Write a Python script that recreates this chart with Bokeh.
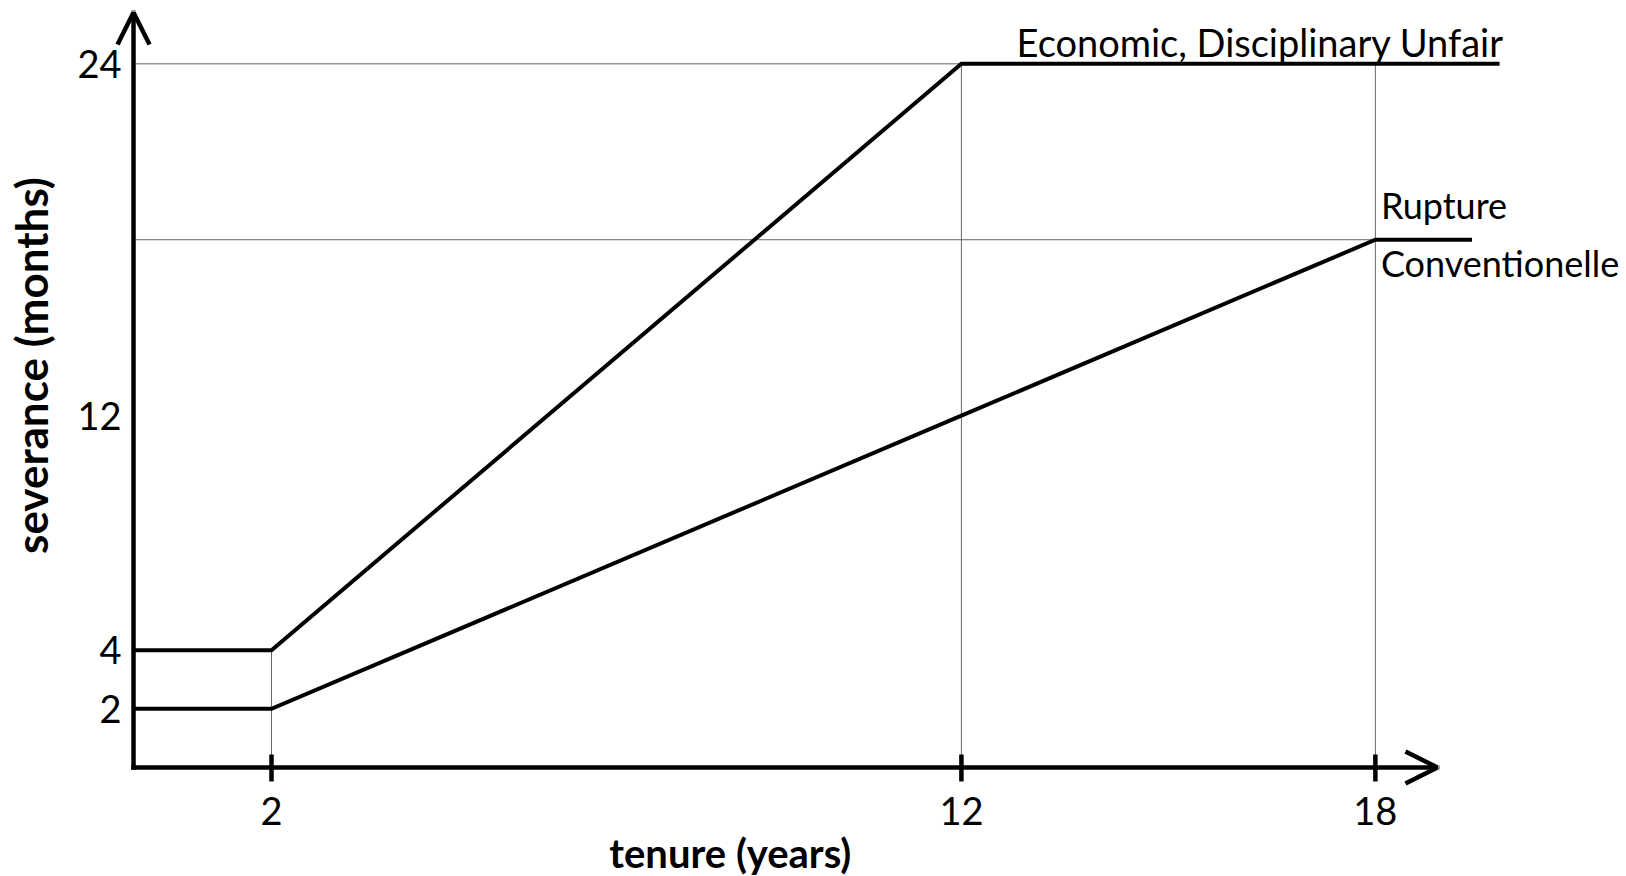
from math import pi
from bokeh.plotting import figure
from bokeh.models import Range1d, Label, Arrow, OpenHead, ColumnDataSource
from bokeh.core.properties import value
from bokeh.embed import file_html
from bokeh.resources import INLINE

# ---- data ----
tenure_upper = [0, 2, 12, 19.8]
severance_upper = [4, 4, 24, 24]
tenure_lower = [0, 2, 12, 18, 19.4]
severance_lower = [2, 2, 12, 18, 18]

x_ticks = [2, 12, 18]
x_tick_labels = ["2", "12", "18"]
y_ticks = [2, 4, 12, 24]
y_tick_labels = ["2", "4", "12", "24"]

guide_v_x = [2, 12, 18]
guide_v_top = [4, 24, 24]
guide_h_y = [24, 18]
guide_h_end = [12, 18]

x_axis_end = 18.9
y_axis_end = 25.75

label_upper = "Economic, Disciplinary Unfair"
label_lower_1 = "Rupture"
label_lower_2 = "Conventionelle"
x_title = "tenure (years)"
y_title = "severance (months)"

FONT = "Lato"

p = figure(width=1626, height=876, output_backend="svg", toolbar_location=None,
           x_axis_location=None, y_axis_location=None,
           x_range=Range1d(-1.928, 21.64), y_range=Range1d(-3.718, 26.16),
           min_border=0, min_border_left=0, min_border_right=0,
           min_border_top=0, min_border_bottom=0)
p.outline_line_color = None
p.background_fill_color = "white"
p.border_fill_color = "white"
p.grid.visible = False

# thin guide lines
p.segment(x0=guide_v_x, y0=[0] * len(guide_v_x), x1=guide_v_x, y1=guide_v_top,
          line_color="#666666", line_width=1)
p.segment(x0=[0] * len(guide_h_y), y0=guide_h_y, x1=guide_h_end, y1=guide_h_y,
          line_color="#666666", line_width=1)

# data lines
p.line(tenure_upper, severance_upper, line_color="black", line_width=4, line_join="miter")
p.line(tenure_lower, severance_lower, line_color="black", line_width=4, line_join="miter")

# axis arrows
p.add_layout(Arrow(end=OpenHead(size=32, line_width=4.5, line_color="black"),
                   x_start=0, y_start=0, x_end=x_axis_end, y_end=0,
                   line_width=4.5, line_color="black", line_cap="square"))
p.add_layout(Arrow(end=OpenHead(size=32, line_width=4.5, line_color="black"),
                   x_start=0, y_start=0, x_end=0, y_end=y_axis_end,
                   line_width=4.5, line_color="black", line_cap="square"))

# x tick marks (crossing the axis) and tick labels
p.segment(x0=x_ticks, y0=[0.443] * len(x_ticks), x1=x_ticks, y1=[-0.477] * len(x_ticks),
          line_color="black", line_width=4.5)
xsrc = ColumnDataSource(dict(x=x_ticks, y=[-1.5] * len(x_ticks), t=x_tick_labels))
p.text(x="x", y="y", text="t", source=xsrc, text_font=value(FONT), text_font_size="38px",
       text_align="center", text_baseline="middle", text_color="black")

# y tick labels
ysrc = ColumnDataSource(dict(x=[-0.174] * len(y_ticks), y=y_ticks, t=y_tick_labels))
p.text(x="x", y="y", text="t", source=ysrc, text_font=value(FONT), text_font_size="38px",
       text_align="right", text_baseline="middle", text_color="black")

# series labels
p.add_layout(Label(x=12.8, y=24.74, text=label_upper, text_font=FONT, text_font_size="38px",
                   text_baseline="middle", text_align="left", text_color="black"))
p.add_layout(Label(x=18.08, y=19.2, text=label_lower_1, text_font=FONT, text_font_size="36px",
                   text_baseline="middle", text_align="left", text_color="black"))
p.add_layout(Label(x=18.08, y=17.2, text=label_lower_2, text_font=FONT, text_font_size="36px",
                   text_baseline="middle", text_align="left", text_color="black"))

# axis titles
p.add_layout(Label(x=8.65, y=-2.9, text=x_title, text_font=FONT, text_font_size="40px",
                   text_font_style="bold", text_baseline="middle", text_align="center",
                   text_color="black"))
p.add_layout(Label(x=-1.49, y=13.71, text=y_title, text_font=FONT, text_font_size="44px",
                   text_font_style="bold", text_baseline="middle", text_align="center",
                   angle=pi / 2, text_color="black"))

open("out.html", "w").write(file_html(p, INLINE))
